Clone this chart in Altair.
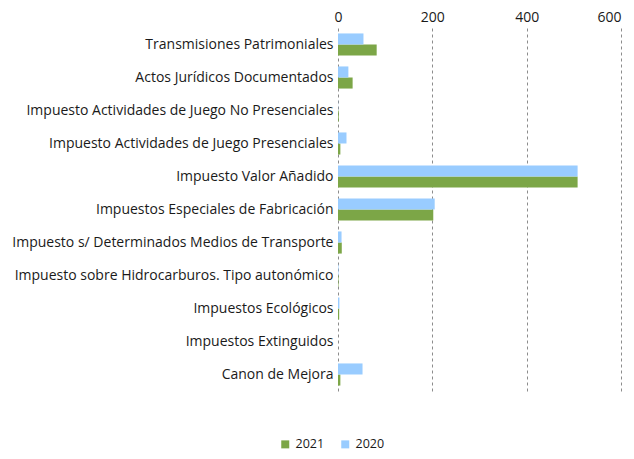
import altair as alt
import pandas as pd

categories = [
    "Transmisiones Patrimoniales",
    "Actos Jurídicos Documentados",
    "Impuesto Actividades de Juego No Presenciales",
    "Impuesto Actividades de Juego Presenciales",
    "Impuesto Valor Añadido",
    "Impuestos Especiales de Fabricación",
    "Impuesto s/ Determinados Medios de Transporte",
    "Impuesto sobre Hidrocarburos. Tipo autonómico",
    "Impuestos Ecológicos",
    "Impuestos Extinguidos",
    "Canon de Mejora",
]
v2021 = [82, 31, 1.5, 5, 508, 202, 8, 1, 2.5, 0, 5]
v2020 = [54, 22, 0.3, 18, 508, 205, 7.5, 1, 3, 0, 52]
years = ["2021", "2020"]
colors = ["#7CA647", "#99CCFF"]
x_ticks = [0, 200, 400, 600]

rows = []
for c, a, b in zip(categories, v2021, v2020):
    rows.append({"cat": c, "year": "2021", "value": a})
    rows.append({"cat": c, "year": "2020", "value": b})
df = pd.DataFrame(rows)

FONT = "Open Sans"

chart = alt.Chart(df).mark_bar().encode(
    y=alt.Y("cat:N", sort=categories, title=None,
            scale=alt.Scale(paddingInner=0.33, paddingOuter=0.165),
            axis=alt.Axis(ticks=False, domain=False, labelFontSize=14,
                          labelColor="#1a1a1a", labelPadding=5, labelFont=FONT,
                          labelLimit=400)),
    yOffset=alt.YOffset("year:N", sort=["2020", "2021"],
                        scale=alt.Scale(paddingInner=0, paddingOuter=0)),
    x=alt.X("value:Q", title=None,
            scale=alt.Scale(domain=[0, 600], nice=False),
            axis=alt.Axis(orient="top", values=x_ticks, ticks=False, domain=False,
                          labelFontSize=14, labelColor="#1a1a1a", labelFont=FONT,
                          labelPadding=4, gridDash=[3, 3], gridColor="#8c8c8c",
                          gridWidth=1, labelFlush=False,
                          labelAlign=alt.expr("datum.value == 600 ? 'right' : 'center'"))),
    color=alt.Color("year:N", sort=years,
                    scale=alt.Scale(domain=years, range=colors),
                    legend=alt.Legend(title=None, orient="none", direction="horizontal",
                                      legendX=-59, legendY=410, symbolType="square",
                                      symbolSize=64, labelFontSize=12.5, labelFont=FONT,
                                      labelColor="#1a1a1a", columnPadding=14,
                                      symbolStrokeWidth=0)),
).properties(
    width=283, height=363,
    autosize=alt.AutoSizeParams(type="none"),
    padding={"left": 330, "top": 20, "right": 5, "bottom": 60},
).configure_view(stroke=None)

chart.save("out.html", embed_options={"renderer": "svg", "actions": False})
